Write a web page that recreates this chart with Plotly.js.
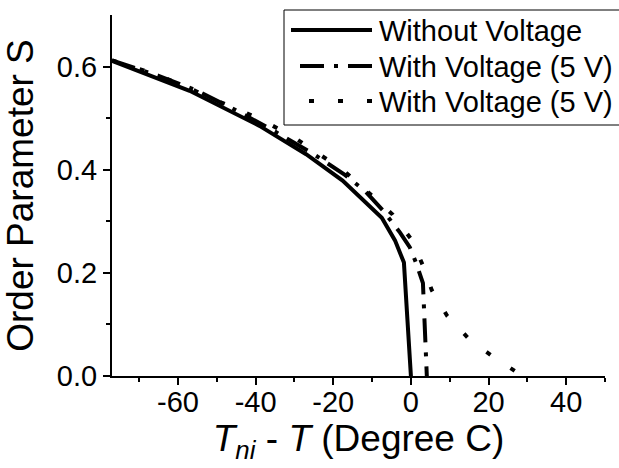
<!DOCTYPE html>
<html>
<head>
<meta charset="utf-8">
<script src="https://cdn.plot.ly/plotly-3.0.1.min.js"></script>
<style>html,body{margin:0;padding:0;background:#fff;}#chart{width:619px;height:468px;}</style>
</head>
<body>
<div id="chart"></div>
<script>
// Without Voltage (solid)
const solidX = [-77, -57, -39, -27, -17.6, -7.5, -4.1, -1.8, -0.9, 0];
const solidY = [0.611, 0.553, 0.485, 0.43, 0.379, 0.307, 0.263, 0.22, 0.11, 0.0];
// With Voltage (5 V) dash-dot
const dashDotX = [-77, -65, -55, -45, -35, -25, -17, -12, -7.3, -2.8, -0.3, 1.3, 3.1, 3.4, 3.8, 4.1];
const dashDotY = [0.612, 0.582, 0.553, 0.515, 0.474, 0.43, 0.39, 0.36, 0.322, 0.278, 0.25, 0.22, 0.18, 0.115, 0.04, 0.0];
// With Voltage (5 V) dotted
const dotX = [-77, -65, -57, -50.8, -43.8, -37.3, -30.8, -24.4, -17.6, -11.1, -4.7, 0.3, 3.1, 5.4, 9.3, 15.3, 21.8, 28.8];
const dotY = [0.612, 0.583, 0.558, 0.536, 0.515, 0.492, 0.466, 0.433, 0.4, 0.357, 0.313, 0.263, 0.214, 0.166, 0.117, 0.069, 0.034, 0.0];
const names = ["Without Voltage", "With Voltage (5 V)", "With Voltage (5 V)"];
const xTicks = [-60, -40, -20, 0, 20, 40];
const yTicks = [0.0, 0.2, 0.4, 0.6];

const FONT = "Arial, 'Liberation Sans', sans-serif";
const W = 619, H = 468;
const M = {l: 112, r: 14, t: 15, b: 92};
const PW = W - M.l - M.r, PH = H - M.t - M.b;
const px2x = p => (p - M.l) / PW;      // pixel -> paper x
const px2y = p => (H - M.b - p) / PH;  // pixel -> paper y

const dashes = ["solid", "24px,10px,4px,10px", "5px,24px"];
const traces = [
  {x: solidX, y: solidY, name: names[0], mode: "lines", line: {color: "#000", width: 4, dash: dashes[0]}},
  {x: dashDotX, y: dashDotY, name: names[1], mode: "lines", line: {color: "#000", width: 4, dash: dashes[1]}},
  {x: dotX, y: dotY, name: names[2], mode: "lines", line: {color: "#000", width: 4, dash: dashes[2]}}
];

// hand-built legend (box, samples, labels)
const legRows = [30, 66, 101];
const shapes = [{
  type: "rect", xref: "paper", yref: "paper", layer: "above",
  x0: px2x(284), x1: px2x(720), y0: px2y(125), y1: px2y(10),
  line: {color: "#000", width: 1}, fillcolor: "#fff"
}];
const annotations = [];
names.forEach((n, i) => {
  shapes.push({type: "line", xref: "paper", yref: "paper", layer: "above",
    x0: px2x(372), x1: px2x(291), y0: px2y(legRows[i]), y1: px2y(legRows[i]),
    line: {color: "#000", width: 4, dash: dashes[i]}});
  annotations.push({xref: "paper", yref: "paper", x: px2x(377), y: px2y(legRows[i] + 1),
    xanchor: "left", yanchor: "middle", showarrow: false, text: n,
    font: {family: FONT, size: 29, color: "#000"}});
});

const layout = {
  width: W, height: H,
  margin: M,
  paper_bgcolor: "#fff", plot_bgcolor: "#fff",
  font: {family: FONT, color: "#000"},
  showlegend: false,
  shapes: shapes,
  annotations: annotations,
  xaxis: {
    range: [-77, 50], showgrid: false, zeroline: false,
    showline: true, linecolor: "#000", linewidth: 2,
    ticks: "outside", ticklen: 7, tickwidth: 2, tickcolor: "#000",
    tickvals: xTicks, ticktext: xTicks.map(v => String(v)),
    tickfont: {family: FONT, size: 29, color: "#000"},
    ticklabelstandoff: -8,
    minor: {tickvals: [-70, -50, -30, -10, 10, 30, 50], ticks: "outside", ticklen: 4, tickwidth: 2, tickcolor: "#000"},
    title: {text: "<i>T</i><sub><i>ni</i></sub> - <i>T</i> (Degree C)", font: {family: FONT, size: 37, color: "#000"}, standoff: 4},
    fixedrange: true
  },
  yaxis: {
    range: [0, 0.7], showgrid: false, zeroline: false,
    showline: true, linecolor: "#000", linewidth: 2,
    ticks: "outside", ticklen: 7, tickwidth: 2, tickcolor: "#000",
    tickvals: yTicks, ticktext: yTicks.map(v => v.toFixed(1)),
    tickfont: {family: FONT, size: 29, color: "#000"},
    minor: {tickvals: [0.1, 0.3, 0.5], ticks: "outside", ticklen: 4, tickwidth: 2, tickcolor: "#000"},
    title: {text: "Order Parameter S", font: {family: FONT, size: 37, color: "#000"}, standoff: 12},
    fixedrange: true
  }
};
Plotly.newPlot("chart", traces, layout, {displayModeBar: false, staticPlot: true});
</script>
</body>
</html>
